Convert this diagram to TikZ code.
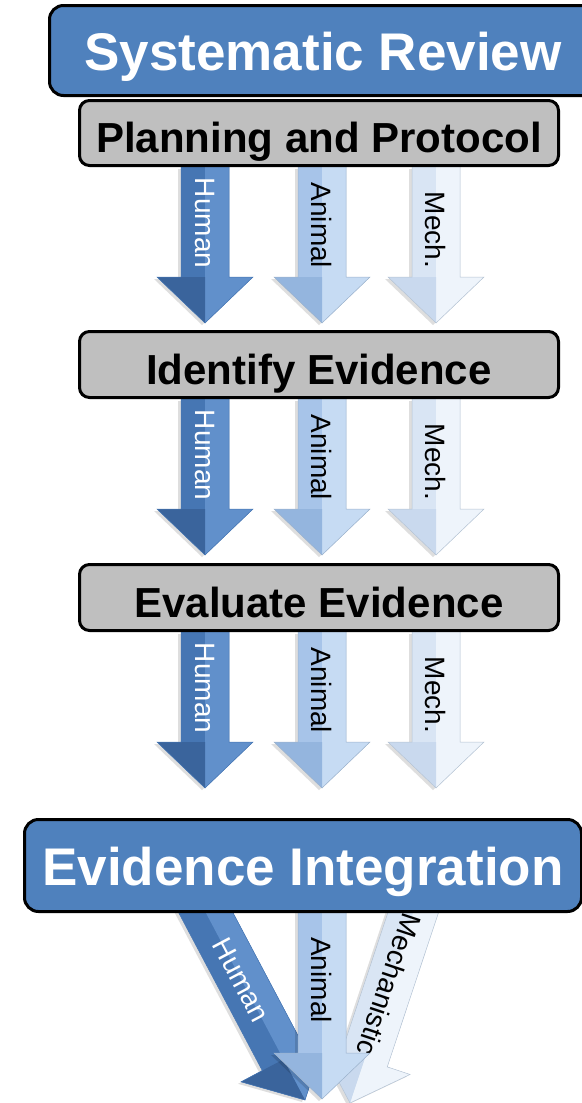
\documentclass[tikz,border=0pt]{standalone}
\usepackage{fontspec}
\setmainfont{Liberation Sans}
\usetikzlibrary{calc}
\pgfdeclarelayer{back}
\pgfsetlayers{back,main}

\definecolor{revblue}{HTML}{4F81BD}
\definecolor{stepgray}{HTML}{BFBFBF}
\definecolor{humM}{HTML}{4676B3}
\definecolor{humR}{HTML}{6190CB}
\definecolor{humL}{HTML}{3A649C}
\definecolor{humO}{HTML}{4676B3}
\definecolor{aniM}{HTML}{A7C4E9}
\definecolor{aniR}{HTML}{C6DBF3}
\definecolor{aniL}{HTML}{94B5DE}
\definecolor{aniO}{HTML}{9DB3CC}
\definecolor{mecM}{HTML}{D9E5F4}
\definecolor{mecR}{HTML}{EEF4FB}
\definecolor{mecL}{HTML}{C9D9EE}
\definecolor{mecO}{HTML}{B5C3D3}

% block arrow: colour prefix, from, to, label, pos of label end, label style
\newcommand{\flowarrow}[6]{%
	\coordinate (hb) at ($(#3)!46pt!(#2)$);
	\coordinate (sr) at ($(#2)!24pt!90:(#3)$);
	\coordinate (sl) at ($(#2)!24pt!-90:(#3)$);
	\coordinate (hr) at ($(hb)!24pt!90:(#3)$);
	\coordinate (hl) at ($(hb)!24pt!-90:(#3)$);
	\coordinate (wr) at ($(hb)!48pt!90:(#3)$);
	\coordinate (wl) at ($(hb)!48pt!-90:(#3)$);
	\fill[black, opacity=0.13, transform canvas={shift={(-3pt,-2pt)}}] (sl) -- (hl) -- (wl) -- (#3) -- (wr) -- (hr) -- (sr) -- cycle;
	\fill[#1M] (sl) -- (hl) -- (wl) -- (#3) -- (wr) -- (hr) -- (sr) -- cycle;
	\fill[#1R] (#2) -- (sr) -- (hr) -- (wr) -- (#3) -- cycle;
	\fill[#1L] (hb) -- (wl) -- (#3) -- cycle;
	\draw[#1O, line width=0.5pt] (sl) -- (hl) -- (wl) -- (#3) -- (wr) -- (hr) -- (sr);
	\path (#2) -- (#3) node[pos=#5, sloped, allow upside down, anchor=east, inner sep=0pt, font=\fontsize{28}{30}\selectfont, #6] {#4};
}

\begin{document}
\begin{tikzpicture}[x=1pt, y=-1pt,
		bluebox/.style={draw=black, line width=3pt, rounded corners=14pt, fill=revblue, text=white, inner sep=0pt,
			font=\bfseries\fontsize{53}{60}\selectfont, text height=39pt, text depth=0pt},
		graybox/.style={draw=black, line width=3pt, rounded corners=10pt, fill=stepgray, text=black, inner sep=0pt,
			font=\bfseries\fontsize{42}{48}\selectfont, text height=39pt, text depth=0pt,
			minimum width=479pt, minimum height=66pt}]
	\useasboundingbox (0,0) rectangle (581,1103);
	\node[bluebox, minimum width=547pt, minimum height=90pt] (review) at (323,50.5) {Systematic Review};
	\node[graybox, minimum height=65pt] (plan) at (319,133) {Planning and Protocol};
	\node[graybox] (ident) at (319,364.5) {Identify Evidence};
	\node[graybox] (eval) at (319,597.5) {Evaluate Evidence};
	\node[bluebox, minimum width=557pt, minimum height=92pt] (integ) at (303,865.5) {Evidence Integration};
	\coordinate (hum) at (205,0);
	\coordinate (ani) at (322,0);
	\coordinate (mec) at (436,0);
	\begin{pgfonlayer}{back}
		\foreach \b in {plan,ident,eval}{
			\coordinate (\b-h) at (\b.south -| hum);
			\coordinate (\b-a) at (\b.south -| ani);
			\coordinate (\b-m) at (\b.south -| mec);
			\coordinate (\b-h-tip) at ($(\b-h)+(0,156)$);
			\coordinate (\b-a-tip) at ($(\b-a)+(0,156)$);
			\coordinate (\b-m-tip) at ($(\b-m)+(0,156)$);
			\flowarrow{hum}{\b-h}{\b-h-tip}{Human}{0.65}{text=white}
			\flowarrow{ani}{\b-a}{\b-a-tip}{Animal}{0.65}{text=black}
			\flowarrow{mec}{\b-m}{\b-m-tip}{Mech.}{0.65}{text=black}
		}
		% merging below integration
		\coordinate (mec-s) at (424,880);
		\coordinate (mec-tip) at (350,1103);
		\flowarrow{mec}{mec-s}{mec-tip}{Mechanistic}{0.785}{text=black}
		\coordinate (hum-s) at (188.5,880);
		\coordinate (hum-tip) at (305,1100);
		\flowarrow{hum}{hum-s}{hum-tip}{Human}{0.636}{text=white}
		\coordinate (ani-s) at (322,880);
		\coordinate (ani-tip) at (322,1099);
		\flowarrow{ani}{ani-s}{ani-tip}{Animal}{0.653}{text=black}
	\end{pgfonlayer}
\end{tikzpicture}
\end{document}
